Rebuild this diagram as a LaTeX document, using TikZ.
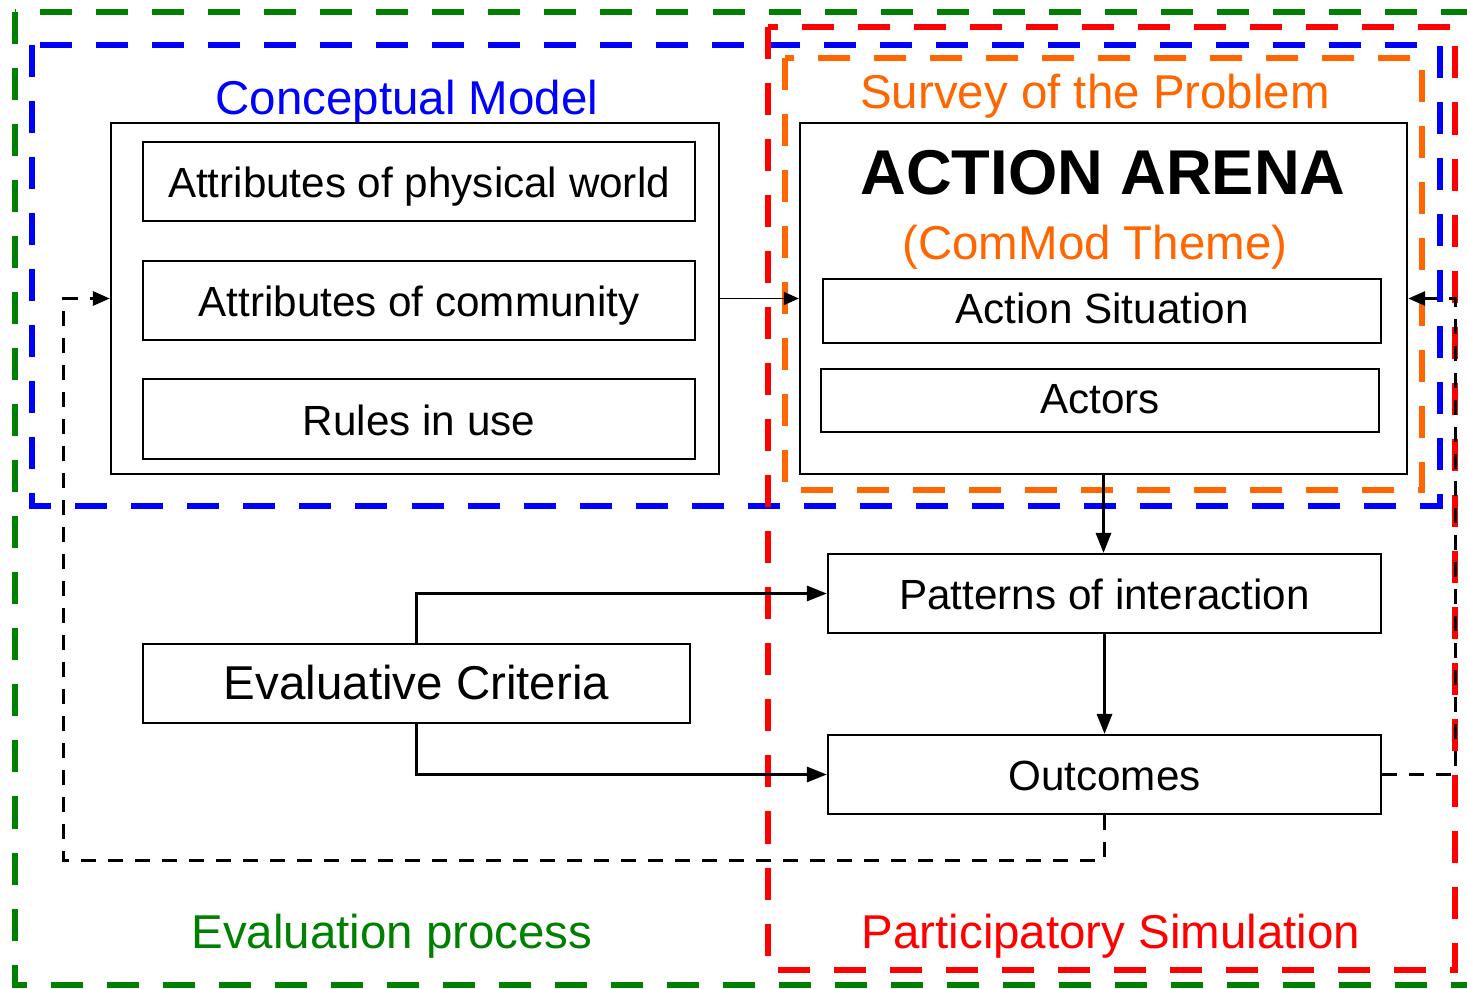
\documentclass[tikz,border=0pt]{standalone}
\usepackage{fontspec}
\setmainfont{Liberation Sans}
\usetikzlibrary{positioning, arrows.meta, fit, backgrounds}

\definecolor{zoneblue}{RGB}{0,0,255}
\definecolor{zonered}{RGB}{255,0,0}
\definecolor{zonegreen}{RGB}{0,128,0}
\definecolor{zoneorange}{RGB}{255,102,0}

\begin{document}
\begin{tikzpicture}[
    x=0.01cm, y=-0.01cm,
    >=Triangle,
    item/.style={
        rectangle,
        draw,
        line width=0.02cm,
        inner sep=0pt,
        text height=0.91em,
        text depth=0pt,
        align=center,
        font=\fontsize{12}{14}\selectfont
    },
    frame/.style={rectangle, draw, line width=0.02cm, inner sep=0pt},
    zone/.style={line width=0.06cm, dash pattern=on 0.32cm off 0.24cm},
    title/.style={anchor=base, font=\fontsize{13.5}{16}\selectfont},
    link/.style={-{Triangle[length=0.15cm, width=0.13cm]}, line width=0.015cm},
    flow/.style={-{Triangle[length=0.2cm, width=0.15cm]}, line width=0.03cm},
    feedback/.style={-{Triangle[length=0.17cm, width=0.14cm]}, line width=0.03cm, dash pattern=on 0.15cm off 0.12cm}
]
\useasboundingbox (0,0) rectangle (1467,988);

% Zones
\draw[zone, zonegreen] (15,12) rectangle (1480,985);
\draw[zone, zoneblue] (32,45) rectangle (1440,506);
\draw[zone, zonered] (768,27) rectangle (1455,970);
\draw[zone, zoneorange] (785,58) rectangle (1422,490);

% Zone titles
\node[title, zoneblue] (cmtitle) at (407,115) {Conceptual Model};
\node[title, zoneorange] (survey) at (1095,109) {Survey of the Problem};
\node[title, zonegreen] (evaltitle) at (392,948) {Evaluation process};
\node[title, zonered] (simtitle) at (1111,948) {Participatory Simulation};

% Conceptual model
\node[frame, minimum width=6.08cm, minimum height=3.51cm] (concept) at (415,298.5) {};
\node[item, minimum width=5.52cm, minimum height=0.79cm] (physical) at (419,181.5) {Attributes of physical world};
\node[item, minimum width=5.52cm, minimum height=0.79cm] (community) at (419,300.5) {Attributes of community};
\node[item, minimum width=5.52cm, minimum height=0.79cm] (rules) at (419,419) {Rules in use};

% Action arena
\node[frame, minimum width=6.07cm, minimum height=3.51cm] (arena) at (1103.5,298.5) {};
\node[anchor=base, font=\fontsize{18}{21}\selectfont\bfseries] (arenatitle) at (1103,195) {ACTION ARENA};
\node[title, zoneorange] (theme) at (1095,259) {(ComMod Theme)};
\node[item, text height=0.72em, minimum width=5.58cm, minimum height=0.64cm] (situation) at (1102,311) {Action Situation};
\node[item, text height=0.72em, minimum width=5.58cm, minimum height=0.63cm] (actors) at (1100,400.5) {Actors};

% Results
\node[item, minimum width=5.53cm, minimum height=0.79cm] (patterns) at (1104.5,593.5) {Patterns of interaction};
\node[item, minimum width=5.53cm, minimum height=0.79cm] (outcomes) at (1104.5,774.5) {Outcomes};
\node[item, minimum width=5.47cm, minimum height=0.79cm, font=\fontsize{13.5}{16}\selectfont] (criteria) at (416.5,683.5) {Evaluative Criteria};

% Arrows
\draw[link] (concept.east) -- (arena.west);
\draw[flow] (arena.south) -- (arena.south |- patterns.north);
\draw[flow] (patterns) -- (outcomes);
\draw[flow] (criteria.north) |- (patterns.west);
\draw[flow] (criteria.south) |- (outcomes.west);

% Feedback loops
\coordinate (loopleft) at (63,860);
\coordinate (loopright) at (1455,774.5);
\draw[feedback] (outcomes.south) |- (loopleft) |- (concept.west);
\draw[feedback] (outcomes.east) -- (loopright) |- (arena.east);

\end{tikzpicture}
\end{document}
